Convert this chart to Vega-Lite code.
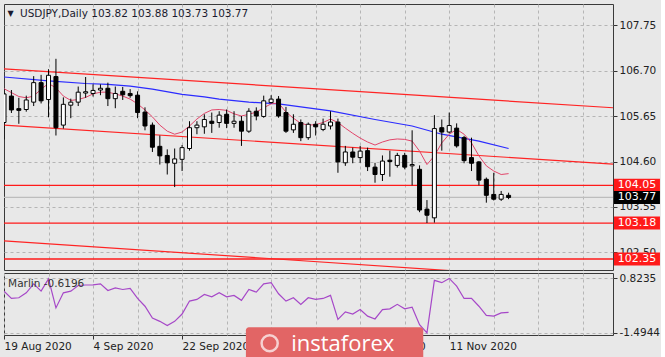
{
  "$schema": "https://vega.github.io/schema/vega-lite/v6.json",
  "background": "#e8e8e8",
  "padding": {"left": 3, "top": 3, "right": 0, "bottom": 0},
  "autosize": {"type": "pad"},
  "spacing": 3,
  "bounds": "flush",
  "config": {
    "font": "DejaVu Sans",
    "scale": {"continuousPadding": 0},
    "view": {"stroke": "#3a3a3a", "strokeWidth": 1},
    "axis": {"labelFont": "DejaVu Sans", "labelFontSize": 10.5, "labelColor": "#222222", "zindex": 0, "gridColor": "#b5b5b5", "gridDash": [3, 3], "gridWidth": 1, "title": null, "labelOverlap": false, "labelFlush": false, "labelBound": false, "tickColor": "#333333"}
  },
  "datasets": {
    "candles": [
      {"i": 0, "o": 105.50, "h": 106.27, "l": 105.11, "c": 106.16},
      {"i": 1, "o": 106.11, "h": 106.25, "l": 105.72, "c": 105.79},
      {"i": 2, "o": 105.82, "h": 106.07, "l": 105.47, "c": 105.78},
      {"i": 3, "o": 105.80, "h": 106.12, "l": 105.75, "c": 106.02},
      {"i": 4, "o": 105.97, "h": 106.57, "l": 105.88, "c": 106.42},
      {"i": 5, "o": 106.42, "h": 106.60, "l": 105.94, "c": 106.00},
      {"i": 6, "o": 106.03, "h": 106.73, "l": 105.62, "c": 106.59},
      {"i": 7, "o": 106.56, "h": 106.97, "l": 105.20, "c": 105.38},
      {"i": 8, "o": 105.44, "h": 106.08, "l": 105.36, "c": 105.92},
      {"i": 9, "o": 105.90, "h": 106.05, "l": 105.60, "c": 105.97},
      {"i": 10, "o": 105.97, "h": 106.33, "l": 105.88, "c": 106.20},
      {"i": 11, "o": 106.18, "h": 106.55, "l": 106.07, "c": 106.21},
      {"i": 12, "o": 106.17, "h": 106.38, "l": 106.10, "c": 106.24},
      {"i": 13, "o": 106.25, "h": 106.38, "l": 106.13, "c": 106.29},
      {"i": 14, "o": 106.29, "h": 106.42, "l": 105.88, "c": 106.05},
      {"i": 15, "o": 106.05, "h": 106.33, "l": 105.83, "c": 106.17},
      {"i": 16, "o": 106.22, "h": 106.32, "l": 106.02, "c": 106.14},
      {"i": 17, "o": 106.17, "h": 106.27, "l": 106.07, "c": 106.12},
      {"i": 18, "o": 106.13, "h": 106.22, "l": 105.60, "c": 105.73},
      {"i": 19, "o": 105.74, "h": 105.85, "l": 105.32, "c": 105.42},
      {"i": 20, "o": 105.44, "h": 105.50, "l": 104.82, "c": 104.93},
      {"i": 21, "o": 104.95, "h": 105.20, "l": 104.53, "c": 104.73},
      {"i": 22, "o": 104.74, "h": 104.88, "l": 104.30, "c": 104.57},
      {"i": 23, "o": 104.56, "h": 104.90, "l": 104.01, "c": 104.66},
      {"i": 24, "o": 104.65, "h": 104.98, "l": 104.38, "c": 104.92},
      {"i": 25, "o": 104.90, "h": 105.53, "l": 104.85, "c": 105.38},
      {"i": 26, "o": 105.38, "h": 105.53, "l": 105.23, "c": 105.44},
      {"i": 27, "o": 105.40, "h": 105.69, "l": 105.24, "c": 105.57},
      {"i": 28, "o": 105.53, "h": 105.73, "l": 105.26, "c": 105.48},
      {"i": 29, "o": 105.50, "h": 105.76, "l": 105.38, "c": 105.67},
      {"i": 30, "o": 105.69, "h": 105.80, "l": 105.37, "c": 105.48},
      {"i": 31, "o": 105.48, "h": 105.76, "l": 105.38, "c": 105.53},
      {"i": 32, "o": 105.53, "h": 105.65, "l": 104.96, "c": 105.30},
      {"i": 33, "o": 105.30, "h": 105.83, "l": 105.26, "c": 105.76},
      {"i": 34, "o": 105.76, "h": 105.85, "l": 105.55, "c": 105.65},
      {"i": 35, "o": 105.64, "h": 106.12, "l": 105.61, "c": 106.00},
      {"i": 36, "o": 105.96, "h": 106.13, "l": 105.94, "c": 106.04},
      {"i": 37, "o": 106.04, "h": 106.11, "l": 105.61, "c": 105.65},
      {"i": 38, "o": 105.73, "h": 105.86, "l": 105.26, "c": 105.30},
      {"i": 39, "o": 105.33, "h": 105.69, "l": 105.26, "c": 105.46},
      {"i": 40, "o": 105.50, "h": 105.57, "l": 105.07, "c": 105.15},
      {"i": 41, "o": 105.15, "h": 105.50, "l": 105.10, "c": 105.46},
      {"i": 42, "o": 105.46, "h": 105.53, "l": 105.20, "c": 105.40},
      {"i": 43, "o": 105.34, "h": 105.59, "l": 105.30, "c": 105.46},
      {"i": 44, "o": 105.42, "h": 105.76, "l": 105.34, "c": 105.51},
      {"i": 45, "o": 105.51, "h": 105.59, "l": 104.34, "c": 104.59},
      {"i": 46, "o": 104.57, "h": 104.96, "l": 104.50, "c": 104.82},
      {"i": 47, "o": 104.82, "h": 104.92, "l": 104.56, "c": 104.70},
      {"i": 48, "o": 104.69, "h": 104.96, "l": 104.57, "c": 104.84},
      {"i": 49, "o": 104.85, "h": 104.92, "l": 104.38, "c": 104.48},
      {"i": 50, "o": 104.47, "h": 104.57, "l": 104.11, "c": 104.30},
      {"i": 51, "o": 104.30, "h": 104.74, "l": 104.15, "c": 104.61},
      {"i": 52, "o": 104.63, "h": 104.85, "l": 104.25, "c": 104.60},
      {"i": 53, "o": 104.51, "h": 104.80, "l": 104.46, "c": 104.74},
      {"i": 54, "o": 104.74, "h": 104.80, "l": 104.42, "c": 104.47},
      {"i": 55, "o": 104.50, "h": 105.32, "l": 104.05, "c": 104.53},
      {"i": 56, "o": 104.42, "h": 104.51, "l": 103.43, "c": 103.48},
      {"i": 57, "o": 103.50, "h": 103.71, "l": 103.18, "c": 103.36},
      {"i": 58, "o": 103.30, "h": 105.67, "l": 103.19, "c": 105.36},
      {"i": 59, "o": 105.38, "h": 105.57, "l": 104.85, "c": 105.28},
      {"i": 60, "o": 105.28, "h": 105.73, "l": 105.25, "c": 105.43},
      {"i": 61, "o": 105.37, "h": 105.48, "l": 104.92, "c": 104.96},
      {"i": 62, "o": 105.15, "h": 105.19, "l": 104.56, "c": 104.62},
      {"i": 63, "o": 104.69, "h": 105.15, "l": 104.38, "c": 104.56},
      {"i": 64, "o": 104.59, "h": 104.61, "l": 104.05, "c": 104.17},
      {"i": 65, "o": 104.19, "h": 104.23, "l": 103.65, "c": 103.82},
      {"i": 66, "o": 103.84, "h": 104.34, "l": 103.70, "c": 103.73},
      {"i": 67, "o": 103.73, "h": 103.92, "l": 103.69, "c": 103.84},
      {"i": 68, "o": 103.82, "h": 103.88, "l": 103.73, "c": 103.77}
    ],
    "fastma": [
      {"i": 0, "p": 106.28}, {"i": 1, "p": 106.19}, {"i": 2, "p": 106.10}, {"i": 3, "p": 106.07},
      {"i": 4, "p": 106.11}, {"i": 5, "p": 106.27}, {"i": 6, "p": 106.40}, {"i": 7, "p": 106.30},
      {"i": 8, "p": 106.11}, {"i": 9, "p": 106.01}, {"i": 10, "p": 106.03}, {"i": 11, "p": 106.08},
      {"i": 12, "p": 106.16}, {"i": 13, "p": 106.20}, {"i": 14, "p": 106.20}, {"i": 15, "p": 106.16},
      {"i": 16, "p": 106.11}, {"i": 17, "p": 106.04}, {"i": 18, "p": 105.93}, {"i": 19, "p": 105.79},
      {"i": 20, "p": 105.63}, {"i": 21, "p": 105.44}, {"i": 22, "p": 105.30}, {"i": 23, "p": 105.23},
      {"i": 24, "p": 105.28}, {"i": 25, "p": 105.42}, {"i": 26, "p": 105.58}, {"i": 27, "p": 105.71},
      {"i": 28, "p": 105.79}, {"i": 29, "p": 105.80}, {"i": 30, "p": 105.78}, {"i": 31, "p": 105.70},
      {"i": 32, "p": 105.65}, {"i": 33, "p": 105.69}, {"i": 34, "p": 105.74}, {"i": 35, "p": 105.84},
      {"i": 36, "p": 105.93}, {"i": 37, "p": 105.95}, {"i": 38, "p": 105.74}, {"i": 39, "p": 105.60},
      {"i": 40, "p": 105.48}, {"i": 41, "p": 105.44}, {"i": 42, "p": 105.45}, {"i": 43, "p": 105.50},
      {"i": 44, "p": 105.58}, {"i": 45, "p": 105.50}, {"i": 46, "p": 105.37}, {"i": 47, "p": 105.25},
      {"i": 48, "p": 105.14}, {"i": 49, "p": 105.05}, {"i": 50, "p": 104.98}, {"i": 51, "p": 105.05},
      {"i": 52, "p": 105.10}, {"i": 53, "p": 105.12}, {"i": 54, "p": 105.11}, {"i": 55, "p": 105.07},
      {"i": 56, "p": 104.84}, {"i": 57, "p": 104.53}, {"i": 58, "p": 104.73}, {"i": 59, "p": 105.03},
      {"i": 60, "p": 105.23}, {"i": 61, "p": 105.34}, {"i": 62, "p": 105.23}, {"i": 63, "p": 105.03},
      {"i": 64, "p": 104.73}, {"i": 65, "p": 104.50}, {"i": 66, "p": 104.38}, {"i": 67, "p": 104.30},
      {"i": 68, "p": 104.32}
    ],
    "slowma": [
      {"i": 0, "p": 106.55}, {"i": 6, "p": 106.46}, {"i": 11, "p": 106.40}, {"i": 14, "p": 106.38},
      {"i": 17, "p": 106.34}, {"i": 20, "p": 106.27}, {"i": 24, "p": 106.15}, {"i": 27, "p": 106.09},
      {"i": 29, "p": 106.04}, {"i": 33, "p": 105.97}, {"i": 37, "p": 105.93}, {"i": 44, "p": 105.77},
      {"i": 50, "p": 105.57}, {"i": 55, "p": 105.42}, {"i": 59, "p": 105.23}, {"i": 64, "p": 105.07},
      {"i": 68, "p": 104.90}
    ],
    "channel": [
      {"line": "upper", "i": 0, "p": 106.74}, {"line": "upper", "i": 82.07, "p": 105.84},
      {"line": "lower", "i": 0, "p": 105.44}, {"line": "lower", "i": 82.07, "p": 104.54},
      {"line": "bottom", "i": 0, "p": 102.77}, {"line": "bottom", "i": 62, "p": 102.06}
    ],
    "levels": [
      {"p": 104.05, "k": "level", "t": "104.05"},
      {"p": 103.77, "k": "price", "t": "103.77"},
      {"p": 103.18, "k": "level", "t": "103.18"},
      {"p": 102.35, "k": "level", "t": "102.35"}
    ],
    "marlin": [
      {"i": 0, "v": 0.28}, {"i": 1, "v": -0.03}, {"i": 2, "v": 0.0}, {"i": 3, "v": 0.21},
      {"i": 4, "v": 0.59}, {"i": 5, "v": 0.28}, {"i": 6, "v": 0.80}, {"i": 7, "v": -0.43},
      {"i": 8, "v": 0.21}, {"i": 9, "v": 0.28}, {"i": 10, "v": 0.52}, {"i": 11, "v": 0.54},
      {"i": 12, "v": 0.55}, {"i": 13, "v": 0.59}, {"i": 14, "v": 0.31}, {"i": 15, "v": 0.42},
      {"i": 16, "v": 0.35}, {"i": 17, "v": 0.40}, {"i": 18, "v": -0.03}, {"i": 19, "v": -0.36},
      {"i": 20, "v": -0.86}, {"i": 21, "v": -1.0}, {"i": 22, "v": -1.18}, {"i": 23, "v": -1.0},
      {"i": 24, "v": -0.69}, {"i": 25, "v": -0.14}, {"i": 26, "v": -0.07}, {"i": 27, "v": 0.14},
      {"i": 28, "v": 0.04}, {"i": 29, "v": 0.21}, {"i": 30, "v": 0.04}, {"i": 31, "v": 0.10},
      {"i": 32, "v": -0.11}, {"i": 33, "v": 0.35}, {"i": 34, "v": 0.24}, {"i": 35, "v": 0.59},
      {"i": 36, "v": 0.64}, {"i": 37, "v": 0.17}, {"i": 38, "v": -0.14}, {"i": 39, "v": 0.0},
      {"i": 40, "v": -0.28}, {"i": 41, "v": 0.0}, {"i": 42, "v": -0.07}, {"i": 43, "v": -0.03},
      {"i": 44, "v": 0.10}, {"i": 45, "v": -0.92}, {"i": 46, "v": -0.60}, {"i": 47, "v": -0.69},
      {"i": 48, "v": -0.50}, {"i": 49, "v": -0.78}, {"i": 50, "v": -0.90}, {"i": 51, "v": -0.50},
      {"i": 52, "v": -0.47}, {"i": 53, "v": -0.28}, {"i": 54, "v": -0.47}, {"i": 55, "v": -0.40},
      {"i": 56, "v": -1.14}, {"i": 57, "v": -1.49}, {"i": 58, "v": 0.74}, {"i": 59, "v": 0.64},
      {"i": 60, "v": 0.82}, {"i": 61, "v": 0.49}, {"i": 62, "v": -0.03}, {"i": 63, "v": -0.03},
      {"i": 64, "v": -0.36}, {"i": 65, "v": -0.75}, {"i": 66, "v": -0.78}, {"i": 67, "v": -0.64},
      {"i": 68, "v": -0.6196}
    ]
  },
  "vconcat": [
    {
      "width": 609,
      "height": 266,
      "layer": [
        {
          "data": {"name": "levels"},
          "mark": {"type": "rule", "strokeWidth": 1.3, "clip": true},
          "encoding": {
            "y": {"field": "p", "type": "quantitative",
              "scale": {"domain": [102.096, 108.235], "nice": false, "zero": false, "padding": 0},
              "axis": {"orient": "right", "values": [107.75, 106.7, 105.65, 104.6, 103.55, 102.5], "format": ".2f", "grid": true, "tickSize": 4, "domain": false, "labelPadding": 2}},
            "color": {"condition": {"test": "datum.k === 'price'", "value": "#bdbdbd"}, "value": "#ff1a1a"}
          }
        },
        {
          "data": {"name": "channel"},
          "mark": {"type": "line", "color": "#ff2424", "strokeWidth": 1.2, "clip": true},
          "encoding": {
            "x": {"field": "i", "type": "quantitative"},
            "y": {"field": "p", "type": "quantitative"},
            "detail": {"field": "line"}
          }
        },
        {
          "data": {"name": "slowma"},
          "mark": {"type": "line", "color": "#2b2bff", "strokeWidth": 1.2, "clip": true},
          "encoding": {
            "x": {"field": "i", "type": "quantitative"},
            "y": {"field": "p", "type": "quantitative"}
          }
        },
        {
          "data": {"name": "fastma"},
          "mark": {"type": "line", "color": "#e2456a", "strokeWidth": 1, "clip": true},
          "encoding": {
            "x": {"field": "i", "type": "quantitative"},
            "y": {"field": "p", "type": "quantitative"}
          }
        },
        {
          "data": {"name": "candles"},
          "mark": {"type": "rule", "color": "#000000", "strokeWidth": 1, "clip": true},
          "encoding": {
            "x": {"field": "i", "type": "quantitative",
              "scale": {"domain": [0, 82.07], "nice": false, "zero": false, "padding": 0},
              "axis": {"orient": "bottom", "values": [6, 12, 18, 24, 30, 36, 42, 48, 54, 60, 66, 72, 78], "grid": true, "labels": false, "ticks": false, "domain": false}},
            "y": {"field": "l", "type": "quantitative"},
            "y2": {"field": "h"}
          }
        },
        {
          "data": {"name": "candles"},
          "mark": {"type": "bar", "orient": "vertical", "size": 4, "stroke": "#000000", "strokeWidth": 1, "clip": true},
          "encoding": {
            "x": {"field": "i", "type": "quantitative"},
            "y": {"field": "o", "type": "quantitative"},
            "y2": {"field": "c"},
            "fill": {"condition": {"test": "datum.c >= datum.o", "value": "#ffffff"}, "value": "#000000"}
          }
        },
        {
          "data": {"name": "levels"},
          "mark": {"type": "bar", "orient": "horizontal", "size": 13, "clip": false},
          "encoding": {
            "x": {"datum": 82.2},
            "x2": {"datum": 88.4},
            "y": {"field": "p", "type": "quantitative"},
            "fill": {"condition": {"test": "datum.k === 'price'", "value": "#000000"}, "value": "#ff1a1a"}
          }
        },
        {
          "data": {"name": "levels"},
          "mark": {"type": "text", "color": "#ffffff", "fontSize": 11, "font": "DejaVu Sans", "align": "center", "baseline": "middle", "clip": false},
          "encoding": {
            "x": {"datum": 85.3},
            "y": {"field": "p", "type": "quantitative"},
            "text": {"field": "t"}
          }
        },
        {
          "data": {"values": [{"label": "title"}]},
          "mark": {"type": "text", "color": "#1a1a2e", "fontSize": 8, "align": "center", "baseline": "middle"},
          "encoding": {
            "x": {"datum": 0.9},
            "y": {"datum": 108.0},
            "text": {"value": "▼"}
          }
        },
        {
          "data": {"values": [{"label": "title"}]},
          "mark": {"type": "text", "color": "#1a1a2e", "fontSize": 10.5, "align": "left", "baseline": "middle"},
          "encoding": {
            "x": {"datum": 2.15},
            "y": {"datum": 108.0},
            "text": {"value": "USDJPY,Daily  103.82 103.88 103.73 103.77"}
          }
        }
      ]
    },
    {
      "width": 609,
      "height": 62,
      "layer": [
        {
          "data": {"name": "marlin"},
          "mark": {"type": "line", "color": "#a648c8", "strokeWidth": 1.2, "clip": true},
          "encoding": {
            "x": {"field": "i", "type": "quantitative",
              "scale": {"domain": [0, 82.07], "nice": false, "zero": false, "padding": 0},
              "axis": {"orient": "bottom", "values": [0, 6, 12, 18, 24, 30, 36, 42, 48, 54, 60, 66, 72, 78], "grid": true, "domain": false, "tickSize": 4, "labelPadding": 2, "labelAlign": "left",
                "tickOpacity": {"condition": {"test": "datum.value % 12 === 0 && datum.value <= 60", "value": 1}, "value": 0},
                "labelExpr": "datum.value === 0 ? '19 Aug 2020' : datum.value === 12 ? '4 Sep 2020' : datum.value === 24 ? '22 Sep 2020' : datum.value === 36 ? '8 Oct 2020' : datum.value === 48 ? '26 Oct 2020' : datum.value === 60 ? '11 Nov 2020' : ''"}},
            "y": {"field": "v", "type": "quantitative",
              "scale": {"domain": [-1.58, 1.05], "nice": false, "zero": false, "padding": 0},
              "axis": {"orient": "right", "values": [0.8235, 0, -1.4944], "grid": true, "tickSize": 4, "domain": false, "labelPadding": 2,
                "labelExpr": "datum.value > 0.5 ? '0.8235' : datum.value < -1 ? '-1.4944' : '0.00'"}}
          }
        },
        {
          "data": {"values": [{"label": "marlin"}]},
          "mark": {"type": "text", "color": "#333333", "fontSize": 10.5, "align": "left", "baseline": "middle"},
          "encoding": {
            "x": {"datum": 0.55},
            "y": {"datum": 0.58},
            "text": {"value": "Marlin -0.6196"}
          }
        },
        {
          "data": {"values": [{"label": "logo"}]},
          "mark": {"type": "rect", "color": "#e26565", "cornerRadius": 3, "clip": false},
          "encoding": {
            "x": {"datum": 32.6},
            "x2": {"datum": 56.5},
            "y": {"datum": -1.25},
            "y2": {"datum": -2.7}
          }
        },
        {
          "data": {"values": [{"label": "logo"}]},
          "mark": {"type": "point", "shape": "circle", "size": 260, "stroke": "#ffffff", "strokeWidth": 2.5, "filled": false, "clip": false},
          "encoding": {
            "x": {"datum": 35.8},
            "y": {"datum": -1.93}
          }
        },
        {
          "data": {"values": [{"label": "logo"}]},
          "mark": {"type": "text", "color": "#ffffff", "fontSize": 22, "font": "Open Sans", "align": "left", "baseline": "middle", "clip": false},
          "encoding": {
            "x": {"datum": 38.7},
            "y": {"datum": -1.95},
            "text": {"value": "instaforex"}
          }
        }
      ]
    }
  ]
}
